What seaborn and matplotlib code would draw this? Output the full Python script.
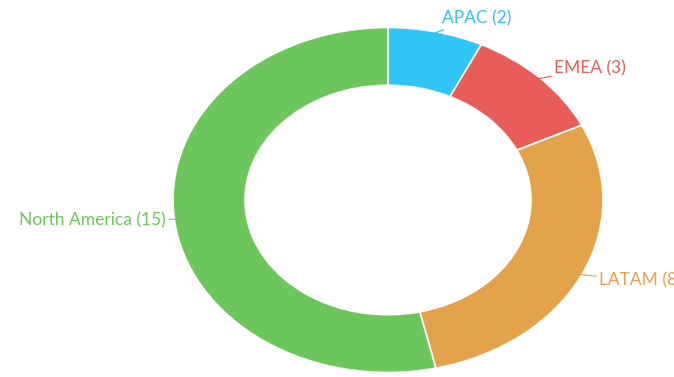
import numpy as np
import matplotlib
matplotlib.use("Agg")
import matplotlib.pyplot as plt
import seaborn as sns

regions = ["APAC", "EMEA", "LATAM", "North America"]
counts = [2, 3, 8, 15]
colors = ["#2fc5f4", "#e85c5a", "#e4a24a", "#6dc65b"]

sns.set_style("white")
plt.rcParams['font.family'] = ['Lato', 'DejaVu Sans']

fig = plt.figure(figsize=(6.74, 3.77), dpi=100)
ax = fig.add_axes([0, 0, 1, 1])

wedges, _ = ax.pie(counts, colors=colors, startangle=90, counterclock=False,
                   radius=1.0,
                   wedgeprops=dict(width=0.335, edgecolor="white", linewidth=1.2))
ax.set_aspect('auto')
# ellipse centre at (388,200) px, radii 215 x 172.5 px
ax.set_xlim(-388 / 215, (674 - 388) / 215)
ax.set_ylim(-(377 - 200) / 172.5, 200 / 172.5)
ax.axis('off')

for w, name, c, col in zip(wedges, regions, counts, colors):
    ang = np.deg2rad((w.theta1 + w.theta2) / 2)
    dx, dy = np.cos(ang), np.sin(ang)
    r_txt = 1.08 if dx > 0 else 1.03
    ha = 'left' if dx > 0 else 'right'
    ax.annotate(f"{name} ({c})", xy=(dx * 0.995, dy * 0.995),
                xytext=(dx * r_txt + (0.01 if dx > 0 else -0.01), dy * r_txt),
                ha=ha, va='center', color=col, fontsize=12.5,
                arrowprops=dict(arrowstyle='-', color=col, lw=0.8,
                                shrinkA=0, shrinkB=0),
                annotation_clip=False)

fig.savefig("out.png", dpi=100)
